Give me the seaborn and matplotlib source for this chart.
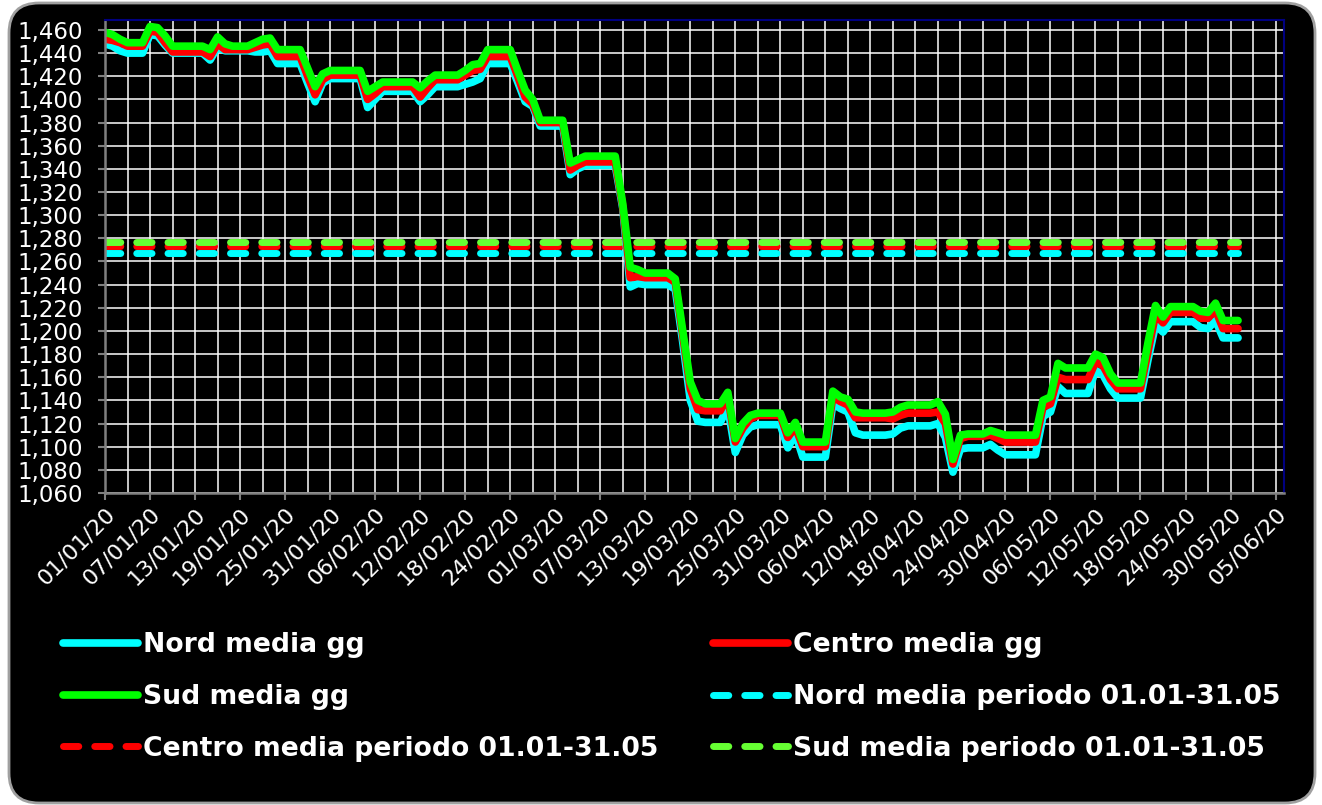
import pandas as pd
import seaborn as sns
import matplotlib.pyplot as plt
import matplotlib.dates as mdates
from matplotlib.ticker import FixedLocator, StrMethodFormatter
from matplotlib.patches import FancyBboxPatch
from matplotlib.transforms import IdentityTransform

# media giornaliera 01/01/20 - 31/05/20
nord = [1448, 1446, 1442, 1440, 1440, 1440, 1456, 1455, 1447, 1440,
        1440, 1440, 1440, 1440, 1434, 1445, 1442, 1442, 1442, 1442,
        1441, 1441, 1442, 1431, 1431, 1431, 1431, 1414, 1398, 1414,
        1418, 1418, 1418, 1418, 1418, 1393, 1400, 1407, 1407, 1407,
        1407, 1407, 1398, 1404, 1411, 1411, 1411, 1411, 1413, 1415,
        1418, 1431, 1431, 1431, 1431, 1415, 1398, 1394, 1377, 1377,
        1377, 1377, 1335, 1340, 1343, 1343, 1343, 1343, 1343, 1306,
        1238, 1241, 1240, 1240, 1240, 1240, 1236, 1190, 1140, 1122,
        1121, 1121, 1121, 1134, 1095, 1110, 1117, 1119, 1119, 1119,
        1119, 1099, 1111, 1091, 1091, 1091, 1091, 1137, 1133, 1130,
        1112, 1110, 1110, 1110, 1110, 1111, 1116, 1118, 1118, 1118,
        1118, 1120, 1108, 1078, 1098, 1099, 1099, 1099, 1102, 1097,
        1093, 1093, 1093, 1093, 1093, 1126, 1130, 1152, 1146, 1146,
        1146, 1146, 1166, 1162, 1150, 1142, 1142, 1142, 1142, 1175,
        1205, 1199, 1208, 1208, 1208, 1208, 1203, 1202, 1209, 1194,
        1194, 1194]
centro = [1452, 1451, 1449, 1446, 1446, 1446, 1459, 1458, 1449, 1441,
          1441, 1441, 1441, 1441, 1437, 1448, 1443, 1443, 1443, 1443,
          1445, 1447, 1448, 1437, 1437, 1437, 1437, 1420, 1404, 1417,
          1421, 1421, 1421, 1421, 1421, 1400, 1405, 1411, 1411, 1411,
          1411, 1411, 1402, 1410, 1417, 1417, 1417, 1417, 1421, 1425,
          1426, 1437, 1437, 1437, 1437, 1420, 1402, 1396, 1380, 1380,
          1380, 1380, 1339, 1343, 1346, 1346, 1346, 1346, 1346, 1308,
          1246, 1247, 1246, 1246, 1246, 1246, 1242, 1196, 1150, 1132,
          1131, 1131, 1131, 1143, 1104, 1116, 1124, 1127, 1127, 1127,
          1127, 1108, 1117, 1100, 1100, 1100, 1100, 1143, 1139, 1136,
          1125, 1125, 1125, 1125, 1125, 1124, 1127, 1129, 1129, 1129,
          1129, 1130, 1120, 1085, 1107, 1109, 1109, 1109, 1110, 1107,
          1104, 1104, 1104, 1104, 1104, 1134, 1137, 1160, 1158, 1158,
          1158, 1158, 1173, 1170, 1158, 1150, 1150, 1150, 1150, 1182,
          1214, 1207, 1216, 1216, 1216, 1216, 1211, 1211, 1218, 1202,
          1202, 1202]
sud = [1458, 1456, 1452, 1449, 1449, 1449, 1463, 1462, 1455, 1446,
       1446, 1446, 1446, 1446, 1443, 1454, 1448, 1446, 1446, 1446,
       1449, 1452, 1453, 1443, 1443, 1443, 1443, 1427, 1411, 1422,
       1425, 1425, 1425, 1425, 1425, 1407, 1411, 1415, 1415, 1415,
       1415, 1415, 1410, 1416, 1421, 1421, 1421, 1421, 1425, 1430,
       1431, 1443, 1443, 1443, 1443, 1425, 1408, 1400, 1382, 1382,
       1382, 1382, 1345, 1348, 1351, 1351, 1351, 1351, 1351, 1310,
       1255, 1253, 1250, 1250, 1250, 1250, 1245, 1200, 1156, 1140,
       1137, 1137, 1137, 1147, 1107, 1120, 1127, 1129, 1129, 1129,
       1129, 1112, 1121, 1104, 1104, 1104, 1104, 1148, 1143, 1141,
       1130, 1129, 1129, 1129, 1129, 1130, 1134, 1136, 1136, 1136,
       1136, 1139, 1128, 1089, 1110, 1111, 1111, 1111, 1114, 1112,
       1110, 1110, 1110, 1110, 1110, 1140, 1143, 1172, 1168, 1168,
       1168, 1168, 1180, 1177, 1163, 1155, 1155, 1155, 1155, 1190,
       1222, 1212, 1221, 1221, 1221, 1221, 1217, 1216, 1224, 1209,
       1209, 1209]

# media periodo 01.01-31.05
nord_periodo = 1267
centro_periodo = 1273
sud_periodo = 1277

yticks = list(range(1060, 1461, 20))

dates = pd.date_range("2020-01-01", periods=len(nord), freq="D")
df = pd.DataFrame({"data": dates, "Nord": nord, "Centro": centro, "Sud": sud})
df["Nord_p"] = nord_periodo
df["Centro_p"] = centro_periodo
df["Sud_p"] = sud_periodo

sns.set_style("dark")
plt.rcParams['font.family'] = ['DejaVu Sans']

fig = plt.figure(figsize=(13.22, 8.05), dpi=100, facecolor="white")

# black rounded frame behind everything
frame = FancyBboxPatch((9, 2), 1306, 800, boxstyle="round,pad=0,rounding_size=30",
                       transform=IdentityTransform(), facecolor="black",
                       edgecolor="#a0a0a0", linewidth=2, zorder=-10)
fig.patches.append(frame)

ax = fig.add_axes([105/1322, 1-493/805, (1284-105)/1322, (493-20)/805])
ax.set_facecolor("black")

# dashed period averages first, daily lines drawn on top
dash = (0, (2.2, 2.3))
sns.lineplot(data=df, x="data", y="Nord_p", ax=ax, color="#00ffff", linewidth=5,
             errorbar=None, linestyle=dash, dash_capstyle="round")
sns.lineplot(data=df, x="data", y="Centro_p", ax=ax, color="#ff0000", linewidth=5,
             errorbar=None, linestyle=dash, dash_capstyle="round")
sns.lineplot(data=df, x="data", y="Sud_p", ax=ax, color="#66ff33", linewidth=5,
             errorbar=None, linestyle=dash, dash_capstyle="round")
sns.lineplot(data=df, x="data", y="Nord", ax=ax, color="#00ffff", linewidth=5.5,
             errorbar=None, solid_joinstyle="round", solid_capstyle="round")
sns.lineplot(data=df, x="data", y="Centro", ax=ax, color="#ff0000", linewidth=5.5,
             errorbar=None, solid_joinstyle="round", solid_capstyle="round")
sns.lineplot(data=df, x="data", y="Sud", ax=ax, color="#00ff00", linewidth=5.5,
             errorbar=None, solid_joinstyle="round", solid_capstyle="round")

l_np, l_cp, l_sp, l_n, l_c, l_s = ax.get_lines()

# axes
ax.set_ylim(1060, 1468.6)
ax.set_yticks(yticks)
ax.yaxis.set_major_formatter(StrMethodFormatter("{x:,.0f}"))
ax.set_xlim(pd.Timestamp("2020-01-01"), pd.Timestamp("2020-06-06 03:00"))
major = pd.date_range("2020-01-01", "2020-06-05", freq="6D")
minor = pd.date_range("2020-01-01", "2020-06-06", freq="3D")
ax.set_xticks(major)
ax.xaxis.set_minor_locator(FixedLocator(mdates.date2num(minor)))
ax.xaxis.set_major_formatter(mdates.DateFormatter("%d/%m/%y"))
ax.set_xlabel("")
ax.set_ylabel("")

ax.grid(which="major", axis="y", color="white", linewidth=1.1)
ax.grid(which="both", axis="x", color="white", linewidth=1.1)
ax.set_axisbelow(True)

ax.tick_params(axis="y", which="major", colors="#808080", labelcolor="white",
               length=5, width=1.5, labelsize=16.5, pad=11, left=True)
ax.tick_params(axis="x", which="major", colors="#808080", labelcolor="white",
               length=5, width=1.5, labelsize=16, pad=3, bottom=True)
ax.tick_params(axis="x", which="minor", length=0)
for lbl in ax.get_xticklabels():
    lbl.set_rotation(45)
    lbl.set_ha("right")
    lbl.set_rotation_mode("anchor")

for s in ["left", "bottom"]:
    ax.spines[s].set_color("#808080")
    ax.spines[s].set_linewidth(1.8)
for s in ["top", "right"]:
    ax.spines[s].set_color("#000080")
    ax.spines[s].set_linewidth(1.5)
for s in ax.spines.values():
    s.set_visible(True)

if ax.get_legend() is not None:
    ax.get_legend().remove()

# row-major order like the original legend (legend fills columns first)
handles = [l_n, l_s, l_cp, l_c, l_np, l_sp]
texts = ["Nord media gg", "Sud media gg", "Centro media periodo 01.01-31.05",
         "Centro media gg", "Nord media periodo 01.01-31.05",
         "Sud media periodo 01.01-31.05"]
fig.legend(handles, texts, ncol=2,
           loc="upper left", bbox_to_anchor=(63/1322, 1-632/805),
           frameon=False, prop=dict(weight="bold", size=19.2), labelcolor="white",
           handlelength=2.8, handletextpad=0.2, columnspacing=2.05,
           labelspacing=0.97, borderpad=0, borderaxespad=0)

plt.savefig("out.png", dpi=100, facecolor="white")
